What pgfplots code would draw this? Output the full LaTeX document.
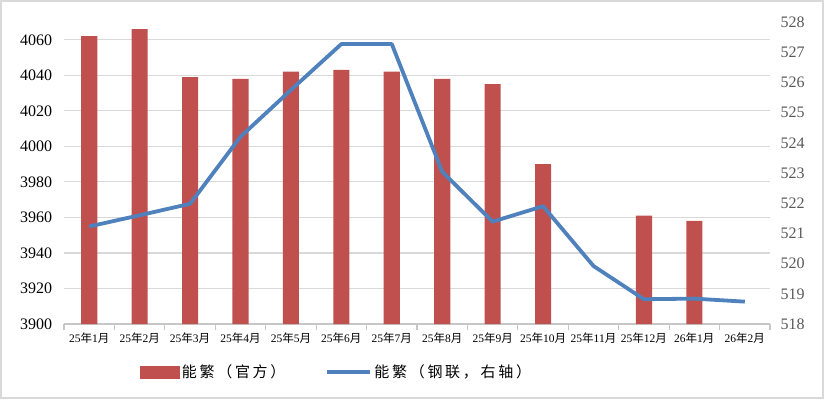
\documentclass[border=0pt]{standalone}
\usepackage{pgfplots}
\pgfplotsset{compat=1.18}
\usepackage{fontspec}
\setmainfont{Liberation Serif}
\newfontfamily\cjk{Noto Sans CJK SC}
\newfontfamily\cjkl[LetterSpace=18]{Noto Sans CJK SC}
\definecolor{barred}{RGB}{192,80,77}
\definecolor{lineblue}{RGB}{79,129,189}
\definecolor{gridgray}{RGB}{217,217,217}
\definecolor{labgray}{RGB}{89,89,89}
\newcommand{\m}[2]{#1{\cjk 年}#2{\cjk 月}}
\begin{document}
\begin{tikzpicture}
\begin{axis}[name=left, scale only axis, width=706pt, height=302pt,
  xmin=-0.5, xmax=13.5, ymin=3900, ymax=4070,
  ytick={3900,3920,...,4060},
  /pgf/number format/assume math mode=true,
  /pgf/number format/1000 sep={},
  ymajorgrids, grid style={draw=gridgray, line width=1.2pt},
  axis x line*=bottom, axis y line*=left,
  y axis line style={draw=none}, ytick style={draw=none},
  x axis line style={draw=gridgray!80!gray, line width=1.2pt},
  xtick={0,...,13},
  xticklabels={\m{25}{1},\m{25}{2},\m{25}{3},\m{25}{4},\m{25}{5},\m{25}{6},\m{25}{7},\m{25}{8},\m{25}{9},\m{25}{10},\m{25}{11},\m{25}{12},\m{26}{1},\m{26}{2}},
  major x tick style={draw=none},
  minor xtick={-0.5,0.5,...,13.5},
  minor x tick style={draw=gridgray!80!gray, line width=1.2pt},
  minor tick length=6pt, tick align=outside,
  xticklabel style={font=\fontsize{11.5}{12}\selectfont, yshift=-1pt},
  yticklabel style={font=\fontsize{16}{16}\selectfont, xshift=-4pt},
  legend style={at={(0.103,-0.159)}, anchor=west, draw=none, fill=none,
    legend columns=2, font=\cjkl\fontsize{15}{15}\selectfont,
    /tikz/every even column/.append style={column sep=38pt},
    /tikz/every odd column/.append style={column sep=0pt}},
  clip=true,
]
\addplot[ybar, bar width=0.32, fill=barred, draw=none,
  legend image code/.code={\fill[barred] (0pt,-6.5pt) rectangle (40pt,6.5pt);}]
  coordinates {(0,4062) (1,4066) (2,4039) (3,4038) (4,4042) (5,4043) (6,4042) (7,4038) (8,4035) (9,3990) (11,3961) (12,3958)};
\addlegendentry{能繁（官方）}
\addlegendimage{legend image code/.code={\draw[lineblue, line width=4pt] (0pt,0pt) -- (43pt,0pt);}}
\addlegendentry{能繁（钢联，右轴）}
\end{axis}
\begin{axis}[scale only axis, width=706pt, height=302pt,
  xmin=-0.5, xmax=13.5, ymin=518, ymax=528,
  ytick={518,519,...,528},
  /pgf/number format/assume math mode=true,
  axis y line*=right, axis x line=none,
  y axis line style={draw=none}, ytick style={draw=none},
  yticklabel style={font=\fontsize{16}{16}\selectfont, text=labgray, xshift=7pt},
]
\addplot[lineblue, line width=3.8pt, line join=round, mark=none]
  coordinates {(0,521.23) (1,521.6) (2,521.98) (3,524.2) (4,525.75) (5,527.27) (6,527.27) (7,523.04) (8,521.39) (9,521.9) (10,519.92) (11,518.82) (12,518.84) (13,518.74)};
\end{axis}
\draw[gridgray, line width=2pt] ([shift={(-63pt,-74pt)}]left.south west) rectangle ([shift={(53pt,21pt)}]left.north east);
\path ([shift={(-64pt,-75pt)}]left.south west) rectangle ([shift={(54pt,22pt)}]left.north east);
\end{tikzpicture}
\end{document}
